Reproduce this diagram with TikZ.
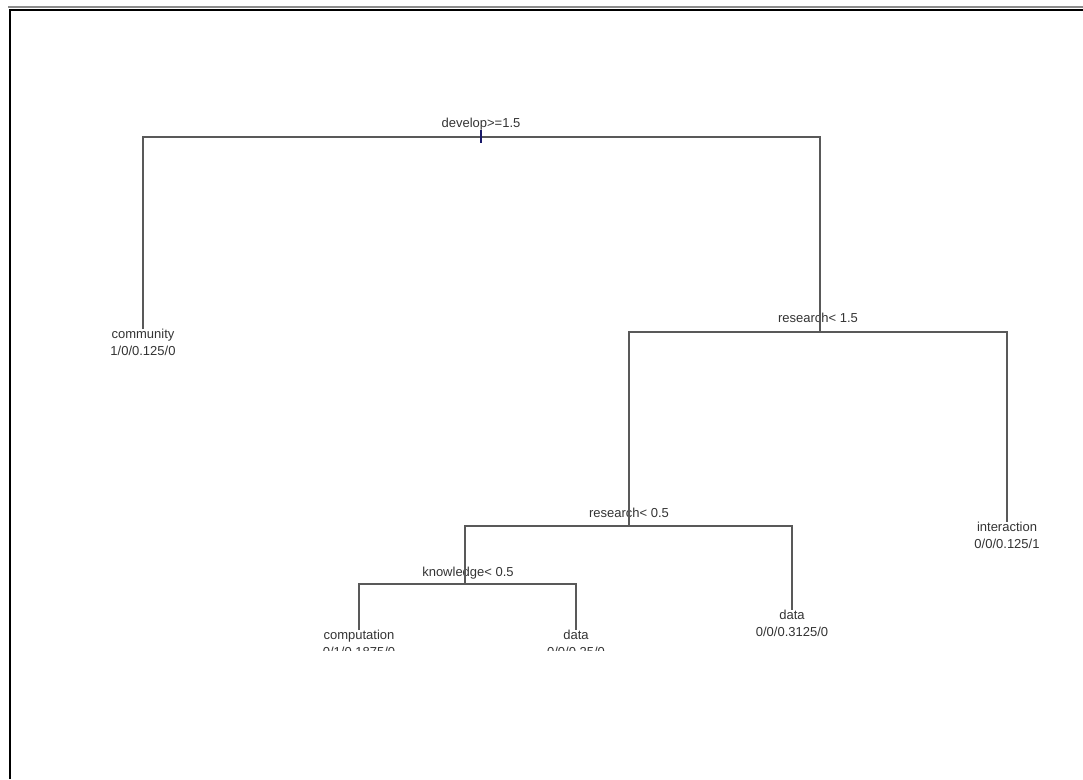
\documentclass[tikz,border=0pt]{standalone}
\usepackage{fontspec}
\setmainfont{Liberation Sans}
\usepackage{tikz}
\usetikzlibrary{positioning}

\definecolor{tickblue}{RGB}{25,25,105}

\tikzset{
  branch/.style={draw=black!65, line width=1.4pt},
  split/.style={font=\fontsize{13}{17}\selectfont, text=black!80, inner sep=0pt, anchor=base},
  leaf/.style={font=\fontsize{13}{17}\selectfont, text=black!80, inner sep=0pt, anchor=north, align=center},
}

\begin{document}
\begin{tikzpicture}[x=1pt, y=-1pt]

  \useasboundingbox (0,0) rectangle (1083,779);

  %% frame
  \draw[black!45, line width=2pt] (8,6.5) -- (1083,6.5);
  \draw[black, line width=2pt] (9.5,779) -- (9.5,10) -- (1083,10);

  \begin{scope}
  \clip (0,0) rectangle (1083,650);

  \coordinate (root) at (481,137);
  \coordinate (res15) at (820,332);
  \coordinate (res05) at (629,526);
  \coordinate (know05) at (465,584);

  \node[split] (lroot) at (481,127) {develop>=1.5};
  \node[split] (lres15) at (818,322) {research< 1.5};
  \node[split] (lres05) at (629,517) {research< 0.5};
  \node[split] (lknow05) at (468,576) {knowledge< 0.5};

  \node[leaf] (comm) at (143,329) {community\\1/0/0.125/0};
  \node[leaf] (inter) at (1007,522) {interaction\\0/0/0.125/1};
  \node[leaf] (dataR) at (792,610) {data\\0/0/0.3125/0};
  \node[leaf] (comp) at (359,630) {computation\\0/1/0.1875/0};
  \node[leaf] (dataL) at (576,630) {data\\0/0/0.25/0};

  \draw[branch] (comm.north) |- (root) -| (res15); % root split
  \draw[branch] (res05) |- (res15) -| (inter.north); % research< 1.5
  \draw[branch] (know05) |- (res05) -| (dataR.north); % research< 0.5
  \draw[branch] (comp.north) |- (know05) -| (dataL.north); % knowledge< 0.5

  \draw[tickblue, line width=1.4pt] (root) ++(0,-7) -- ++(0,13);
  \end{scope}

\end{tikzpicture}
\end{document}
